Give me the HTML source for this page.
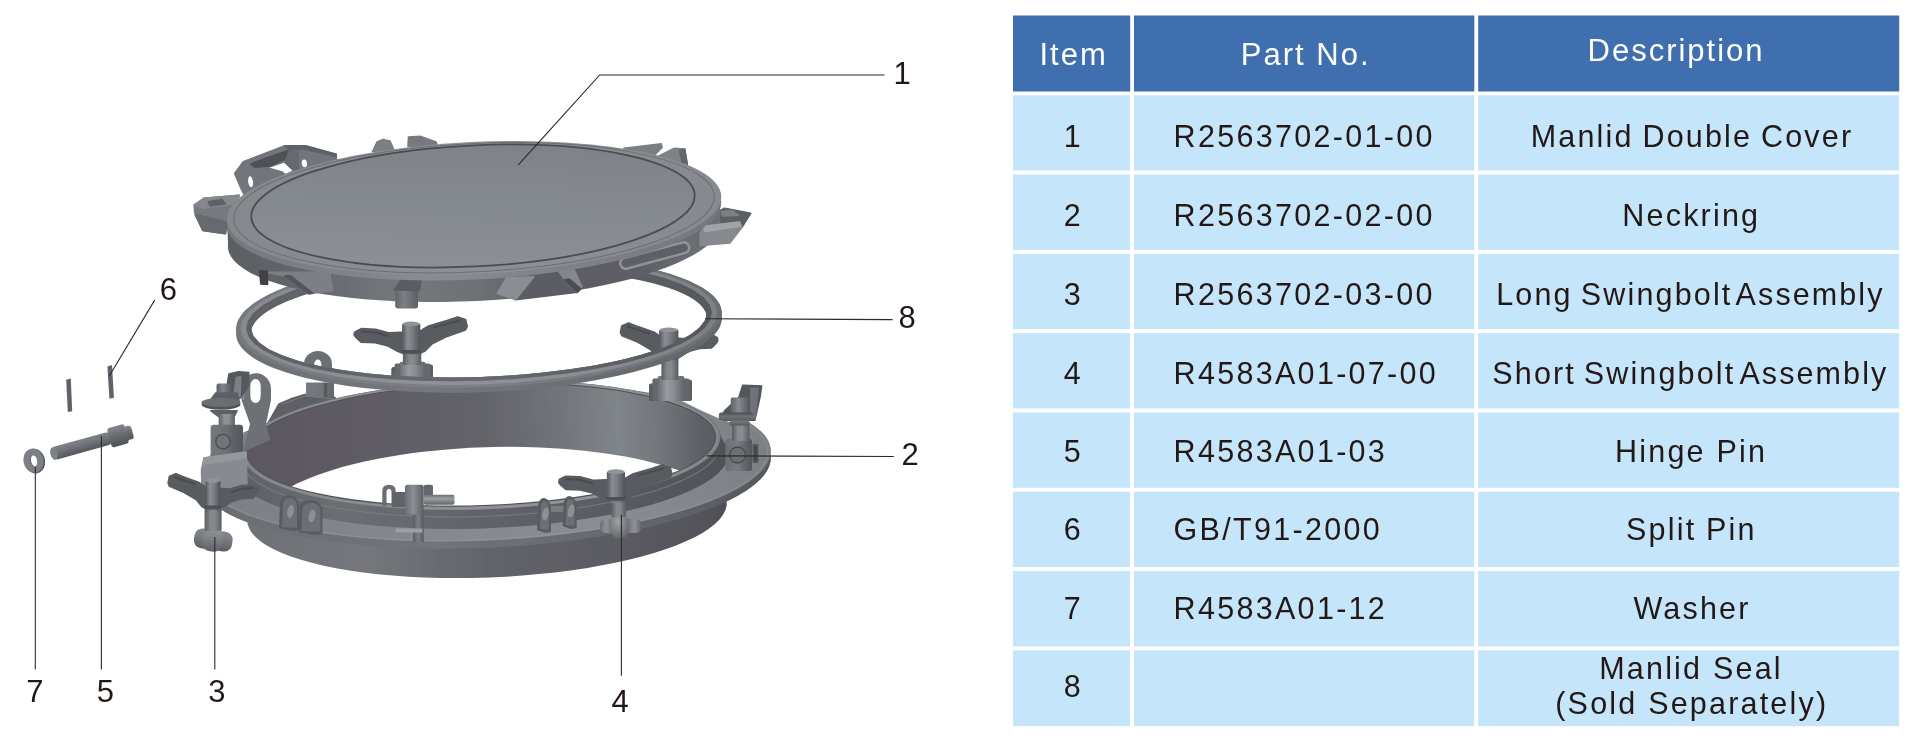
<!DOCTYPE html>
<html><head><meta charset="utf-8"><title>Manlid parts</title>
<style>
html,body{margin:0;padding:0;background:#fff;}
body{width:1920px;height:748px;overflow:hidden;font-family:'Liberation Sans', Arial, sans-serif;}
svg{display:block;position:absolute;left:0;top:0;}
svg text{font-family:'Liberation Sans', Arial, sans-serif;}
</style></head><body>
<svg width="1920" height="748" viewBox="0 0 1920 748">
<defs>
<filter id="softblur" x="0" y="0" width="960" height="748" filterUnits="userSpaceOnUse"><feGaussianBlur stdDeviation="0.7"/></filter>
<linearGradient id="gsk" gradientUnits="userSpaceOnUse" x1="240" y1="0" x2="735" y2="0"><stop offset="0" stop-color="#6d7075"/><stop offset="0.25" stop-color="#74777c"/><stop offset="0.5" stop-color="#62646a"/><stop offset="0.8" stop-color="#5a5961"/><stop offset="1" stop-color="#4f4f56"/></linearGradient>
<linearGradient id="gfe" gradientUnits="userSpaceOnUse" x1="200" y1="0" x2="771" y2="0"><stop offset="0" stop-color="#6a6d72"/><stop offset="0.4" stop-color="#70747a"/><stop offset="0.7" stop-color="#666a6f"/><stop offset="1" stop-color="#55585e"/></linearGradient>
<linearGradient id="gft" gradientUnits="userSpaceOnUse" x1="200" y1="0" x2="771" y2="0"><stop offset="0" stop-color="#7b7f84"/><stop offset="0.35" stop-color="#84888d"/><stop offset="0.7" stop-color="#8a8e93"/><stop offset="1" stop-color="#7c8085"/></linearGradient>
<linearGradient id="gwall" gradientUnits="userSpaceOnUse" x1="246" y1="0" x2="721" y2="0"><stop offset="0" stop-color="#5e6166"/><stop offset="0.2" stop-color="#6b6e73"/><stop offset="0.5" stop-color="#606368"/><stop offset="0.8" stop-color="#595b61"/><stop offset="1" stop-color="#505258"/></linearGradient>
<linearGradient id="grim" gradientUnits="userSpaceOnUse" x1="246" y1="0" x2="721" y2="0"><stop offset="0" stop-color="#7c8085"/><stop offset="0.4" stop-color="#85898e"/><stop offset="0.75" stop-color="#8e9297"/><stop offset="1" stop-color="#7a7e83"/></linearGradient>
<linearGradient id="ginn" gradientUnits="userSpaceOnUse" x1="250" y1="0" x2="716" y2="0"><stop offset="0" stop-color="#5c5862"/><stop offset="0.25" stop-color="#5e5b65"/><stop offset="0.5" stop-color="#63636a"/><stop offset="0.66" stop-color="#707479"/><stop offset="0.79" stop-color="#80858a"/><stop offset="0.88" stop-color="#72767b"/><stop offset="0.96" stop-color="#5f6267"/><stop offset="1" stop-color="#5a5c62"/></linearGradient>
<clipPath id="cpin"><ellipse cx="481.0" cy="444.6" rx="233.9" ry="60.4" transform="rotate(-2.0 481.0 444.6)" fill="#000" /></clipPath>
<linearGradient id="b3cap" gradientUnits="userSpaceOnUse" x1="216.5" y1="0" x2="232.6" y2="0"><stop offset="0" stop-color="#5f6267"/><stop offset="0.4" stop-color="#80848a"/><stop offset="1" stop-color="#54575c"/></linearGradient>
<linearGradient id="b3stem" gradientUnits="userSpaceOnUse" x1="218.7" y1="0" x2="234.9" y2="0"><stop offset="0" stop-color="#5c5f64"/><stop offset="0.35" stop-color="#8d9196"/><stop offset="0.6" stop-color="#8d9196"/><stop offset="1" stop-color="#5c5f64"/></linearGradient>
<linearGradient id="b3blk" gradientUnits="userSpaceOnUse" x1="210.6" y1="0" x2="243" y2="0"><stop offset="0" stop-color="#74787d"/><stop offset="0.5" stop-color="#6b6f74"/><stop offset="0.72" stop-color="#5c5f64"/><stop offset="1" stop-color="#55585d"/></linearGradient>
<linearGradient id="b4blk" gradientUnits="userSpaceOnUse" x1="725.5" y1="0" x2="752" y2="0"><stop offset="0" stop-color="#6b6e73"/><stop offset="0.45" stop-color="#777b80"/><stop offset="0.8" stop-color="#5f6267"/><stop offset="1" stop-color="#54575c"/></linearGradient>
<linearGradient id="b4stem" gradientUnits="userSpaceOnUse" x1="732" y1="0" x2="749.5" y2="0"><stop offset="0" stop-color="#595c61"/><stop offset="0.35" stop-color="#878b90"/><stop offset="0.6" stop-color="#878b90"/><stop offset="1" stop-color="#595c61"/></linearGradient>
<linearGradient id="b4cap" gradientUnits="userSpaceOnUse" x1="730.8" y1="0" x2="749.5" y2="0"><stop offset="0" stop-color="#5f6267"/><stop offset="0.4" stop-color="#888c91"/><stop offset="1" stop-color="#54575c"/></linearGradient>
<linearGradient id="b4w1" gradientUnits="userSpaceOnUse" x1="0" y1="412.6" x2="0" y2="420.3"><stop offset="0" stop-color="#4b4e53"/><stop offset="0.5" stop-color="#6e7277"/><stop offset="1" stop-color="#5a5d62"/></linearGradient>
<linearGradient id="b4w2" gradientUnits="userSpaceOnUse" x1="0" y1="420.6" x2="0" y2="425.5"><stop offset="0" stop-color="#7b7f84"/><stop offset="1" stop-color="#54575c"/></linearGradient>
<linearGradient id="b1base" gradientUnits="userSpaceOnUse" x1="399.64" y1="0" x2="425.494" y2="0"><stop offset="0" stop-color="#6a6d72"/><stop offset="0.35" stop-color="#989ca1"/><stop offset="0.6" stop-color="#8a8e93"/><stop offset="1" stop-color="#62656a"/></linearGradient>
<linearGradient id="b1s" gradientUnits="userSpaceOnUse" x1="402.9" y1="0" x2="421.3" y2="0"><stop offset="0" stop-color="#595c61"/><stop offset="0.35" stop-color="#85898e"/><stop offset="0.6" stop-color="#85898e"/><stop offset="1" stop-color="#595c61"/></linearGradient>
<linearGradient id="b1h" gradientUnits="userSpaceOnUse" x1="402.09999999999997" y1="0" x2="420.3" y2="0"><stop offset="0" stop-color="#54575c"/><stop offset="0.3" stop-color="#8a8e93"/><stop offset="0.55" stop-color="#7b7f84"/><stop offset="1" stop-color="#505358"/></linearGradient>
<linearGradient id="rlstem" gradientUnits="userSpaceOnUse" x1="306" y1="0" x2="334" y2="0"><stop offset="0" stop-color="#777b80"/><stop offset="0.6" stop-color="#70747a"/><stop offset="0.7" stop-color="#4d5055"/><stop offset="0.78" stop-color="#686c71"/><stop offset="1" stop-color="#64676c"/></linearGradient>
<linearGradient id="b2base" gradientUnits="userSpaceOnUse" x1="657.6" y1="0" x2="684.26" y2="0"><stop offset="0" stop-color="#6a6d72"/><stop offset="0.35" stop-color="#989ca1"/><stop offset="0.6" stop-color="#8a8e93"/><stop offset="1" stop-color="#62656a"/></linearGradient>
<linearGradient id="b2stem" gradientUnits="userSpaceOnUse" x1="661.4" y1="0" x2="678.4" y2="0"><stop offset="0" stop-color="#595c61"/><stop offset="0.35" stop-color="#85898e"/><stop offset="0.6" stop-color="#85898e"/><stop offset="1" stop-color="#595c61"/></linearGradient>
<linearGradient id="b2s" gradientUnits="userSpaceOnUse" x1="658.8720000000001" y1="0" x2="678.3760000000001" y2="0"><stop offset="0" stop-color="#595c61"/><stop offset="0.35" stop-color="#85898e"/><stop offset="0.6" stop-color="#85898e"/><stop offset="1" stop-color="#595c61"/></linearGradient>
<linearGradient id="b2h" gradientUnits="userSpaceOnUse" x1="659.0840000000001" y1="0" x2="678.3760000000001" y2="0"><stop offset="0" stop-color="#54575c"/><stop offset="0.3" stop-color="#8a8e93"/><stop offset="0.55" stop-color="#7b7f84"/><stop offset="1" stop-color="#505358"/></linearGradient>
<linearGradient id="castem" gradientUnits="userSpaceOnUse" x1="413" y1="0" x2="423.7" y2="0"><stop offset="0" stop-color="#5a5d62"/><stop offset="0.5" stop-color="#7b7f84"/><stop offset="1" stop-color="#55585d"/></linearGradient>
<linearGradient id="capin" gradientUnits="userSpaceOnUse" x1="0" y1="494.7" x2="0" y2="504.8"><stop offset="0" stop-color="#6b6e73"/><stop offset="0.4" stop-color="#9a9ea3"/><stop offset="1" stop-color="#5f6267"/></linearGradient>
<linearGradient id="cablk" gradientUnits="userSpaceOnUse" x1="405" y1="0" x2="423.7" y2="0"><stop offset="0" stop-color="#6b6e73"/><stop offset="0.45" stop-color="#8b8f94"/><stop offset="1" stop-color="#5c5f64"/></linearGradient>
<linearGradient id="f3t" gradientUnits="userSpaceOnUse" x1="0" y1="530" x2="0" y2="550"><stop offset="0" stop-color="#84888d"/><stop offset="0.35" stop-color="#7a7e83"/><stop offset="1" stop-color="#5a5d62"/></linearGradient>
<linearGradient id="f3t2" gradientUnits="userSpaceOnUse" x1="0" y1="528.5" x2="0" y2="551.5"><stop offset="0" stop-color="#8f9398"/><stop offset="0.4" stop-color="#808489"/><stop offset="1" stop-color="#5f6267"/></linearGradient>
<linearGradient id="f3stem" gradientUnits="userSpaceOnUse" x1="204.6" y1="0" x2="221.6" y2="0"><stop offset="0" stop-color="#595c61"/><stop offset="0.35" stop-color="#85898e"/><stop offset="0.6" stop-color="#85898e"/><stop offset="1" stop-color="#595c61"/></linearGradient>
<linearGradient id="f3s" gradientUnits="userSpaceOnUse" x1="205.384" y1="0" x2="220.47199999999998" y2="0"><stop offset="0" stop-color="#595c61"/><stop offset="0.35" stop-color="#85898e"/><stop offset="0.6" stop-color="#85898e"/><stop offset="1" stop-color="#595c61"/></linearGradient>
<linearGradient id="f3h" gradientUnits="userSpaceOnUse" x1="205.548" y1="0" x2="220.47199999999998" y2="0"><stop offset="0" stop-color="#54575c"/><stop offset="0.3" stop-color="#8a8e93"/><stop offset="0.55" stop-color="#7b7f84"/><stop offset="1" stop-color="#505358"/></linearGradient>
<radialGradient id="thd" cx="0.4" cy="0.3" r="0.75"><stop offset="0" stop-color="#9ea2a7"/><stop offset="1" stop-color="#62656a"/></radialGradient>
<linearGradient id="f4t" gradientUnits="userSpaceOnUse" x1="600" y1="0" x2="641" y2="0"><stop offset="0" stop-color="#6b6e73"/><stop offset="0.15" stop-color="#8f9398"/><stop offset="0.3" stop-color="#6b6e73"/><stop offset="0.7" stop-color="#74787d"/><stop offset="0.85" stop-color="#8f9398"/><stop offset="1" stop-color="#64676c"/></linearGradient>
<linearGradient id="f4stem" gradientUnits="userSpaceOnUse" x1="611.2" y1="0" x2="625.9" y2="0"><stop offset="0" stop-color="#595c61"/><stop offset="0.35" stop-color="#85898e"/><stop offset="0.6" stop-color="#85898e"/><stop offset="1" stop-color="#595c61"/></linearGradient>
<linearGradient id="f4s" gradientUnits="userSpaceOnUse" x1="607.6" y1="0" x2="626.0" y2="0"><stop offset="0" stop-color="#595c61"/><stop offset="0.35" stop-color="#85898e"/><stop offset="0.6" stop-color="#85898e"/><stop offset="1" stop-color="#595c61"/></linearGradient>
<linearGradient id="f4h" gradientUnits="userSpaceOnUse" x1="606.8" y1="0" x2="625.0" y2="0"><stop offset="0" stop-color="#54575c"/><stop offset="0.3" stop-color="#8a8e93"/><stop offset="0.55" stop-color="#7b7f84"/><stop offset="1" stop-color="#505358"/></linearGradient>
<linearGradient id="hp" gradientUnits="userSpaceOnUse" x1="0" y1="436.5" x2="0" y2="449.5"><stop offset="0" stop-color="#7d8186"/><stop offset="0.3" stop-color="#75797e"/><stop offset="1" stop-color="#54575c"/></linearGradient>
<linearGradient id="hp2" gradientUnits="userSpaceOnUse" x1="0" y1="433" x2="0" y2="453"><stop offset="0" stop-color="#84888d"/><stop offset="0.4" stop-color="#6b6e73"/><stop offset="1" stop-color="#4f5257"/></linearGradient>
<linearGradient id="hp3" gradientUnits="userSpaceOnUse" x1="0" y1="436" x2="0" y2="450"><stop offset="0" stop-color="#84888d"/><stop offset="0.4" stop-color="#6b6e73"/><stop offset="1" stop-color="#54575c"/></linearGradient>
<linearGradient id="gseal0" gradientUnits="userSpaceOnUse" x1="236" y1="0" x2="722" y2="0"><stop offset="0" stop-color="#6c7075"/><stop offset="0.4" stop-color="#74787d"/><stop offset="1" stop-color="#62666b"/></linearGradient>
<linearGradient id="gseal1" gradientUnits="userSpaceOnUse" x1="236" y1="0" x2="722" y2="0"><stop offset="0" stop-color="#868a8f"/><stop offset="0.4" stop-color="#8f9398"/><stop offset="0.7" stop-color="#8b8f94"/><stop offset="1" stop-color="#7b7f84"/></linearGradient>
<linearGradient id="gseal2" gradientUnits="userSpaceOnUse" x1="236" y1="0" x2="722" y2="0"><stop offset="0" stop-color="#5d6065"/><stop offset="0.5" stop-color="#666a6f"/><stop offset="1" stop-color="#54575c"/></linearGradient>
<linearGradient id="gseal3" gradientUnits="userSpaceOnUse" x1="236" y1="0" x2="722" y2="0"><stop offset="0" stop-color="#75797e"/><stop offset="0.5" stop-color="#7d8186"/><stop offset="1" stop-color="#6a6e73"/></linearGradient>
<clipPath id="cpseal"><ellipse cx="479.0" cy="320.5" rx="228.0" ry="56.5" transform="rotate(-2.0 479.0 320.5)" fill="#000" /></clipPath>
<mask id="mseal" maskUnits="userSpaceOnUse" x="0" y="0" width="960" height="748"><rect x="0" y="0" width="960" height="748" fill="#fff"/><g clip-path="url(#cpseal)"><ellipse cx="479.0" cy="325.5" rx="228.0" ry="56.5" transform="rotate(-2.0 479.0 325.5)" fill="#000" /></g></mask>
<linearGradient id="gcw" gradientUnits="userSpaceOnUse" x1="226" y1="0" x2="722" y2="0"><stop offset="0" stop-color="#5b5e63"/><stop offset="0.15" stop-color="#63666b"/><stop offset="0.35" stop-color="#74787d"/><stop offset="0.51" stop-color="#6d7075"/><stop offset="0.61" stop-color="#62636a"/><stop offset="0.69" stop-color="#5d5c65"/><stop offset="0.83" stop-color="#5e5d66"/><stop offset="0.935" stop-color="#6a6d72"/><stop offset="1" stop-color="#6e7176"/></linearGradient>
<linearGradient id="cvcyl" gradientUnits="userSpaceOnUse" x1="395" y1="0" x2="418" y2="0"><stop offset="0" stop-color="#64676c"/><stop offset="0.4" stop-color="#7b7f84"/><stop offset="1" stop-color="#5c5f64"/></linearGradient>
<linearGradient id="gcch" gradientUnits="userSpaceOnUse" x1="226" y1="0" x2="722" y2="0"><stop offset="0" stop-color="#74787d"/><stop offset="0.4" stop-color="#888c91"/><stop offset="0.7" stop-color="#7e8287"/><stop offset="1" stop-color="#74787d"/></linearGradient>
<linearGradient id="gcr" gradientUnits="userSpaceOnUse" x1="226" y1="0" x2="722" y2="0"><stop offset="0" stop-color="#85898e"/><stop offset="0.5" stop-color="#8d9196"/><stop offset="1" stop-color="#868a8f"/></linearGradient>
<linearGradient id="gct" gradientUnits="userSpaceOnUse" x1="480" y1="146" x2="470" y2="267"><stop offset="0" stop-color="#7f8389"/><stop offset="0.5" stop-color="#858a8e"/><stop offset="1" stop-color="#8c9094"/></linearGradient>
</defs>
<g id="diagram" filter="url(#softblur)">
<path d="M725.7,496.6 L726.7,501.1 L726.6,505.7 L725.4,510.2 L723.0,514.8 L719.5,519.4 L714.9,524.0 L709.2,528.5 L702.5,532.9 L694.7,537.2 L685.9,541.3 L676.2,545.4 L665.5,549.3 L654.0,553.0 L641.8,556.5 L628.8,559.7 L615.1,562.8 L600.8,565.6 L585.9,568.2 L570.6,570.4 L554.9,572.4 L538.8,574.1 L522.5,575.6 L506.1,576.7 L489.5,577.5 L473.0,577.9 L456.5,578.1 L440.1,577.9 L424.0,577.5 L408.2,576.7 L392.7,575.6 L377.7,574.2 L363.3,572.5 L349.4,570.5 L336.1,568.2 L323.6,565.7 L311.9,562.8 L301.0,559.8 L291.0,556.5 L281.9,553.0 L273.8,549.3 L266.7,545.5 L260.7,541.4 L255.8,537.2 L251.9,532.9 L249.2,528.5 L247.6,524.1 L247.2,519.5 L247.9,514.9 L247.0,470.0 L727.0,450.0Z" fill="url(#gsk)" />
<path d="M760.1,437.5 L765.2,443.0 L768.6,448.7 L770.4,454.5 L770.6,460.5 L769.1,466.4 L765.9,472.4 L761.1,478.4 L754.7,484.3 L746.8,490.2 L737.3,495.9 L726.4,501.5 L714.0,506.9 L700.3,512.1 L685.4,517.0 L669.3,521.6 L652.2,526.0 L634.1,530.0 L615.1,533.7 L595.3,537.0 L575.0,539.9 L554.1,542.5 L532.8,544.6 L511.2,546.2 L489.5,547.4 L467.8,548.2 L446.2,548.5 L424.8,548.3 L403.7,547.7 L383.2,546.7 L363.2,545.2 L344.0,543.2 L325.6,540.8 L308.1,538.0 L291.7,534.9 L276.4,531.3 L262.3,527.4 L249.5,523.1 L238.1,518.6 L228.1,513.7 L219.7,508.6 L212.8,503.3 L207.4,497.8 L203.8,492.1 L201.7,486.3 L201.3,480.4 L202.6,474.4 L205.5,468.4 L210.1,462.5 L210.1,455.5 L205.5,461.4 L202.6,467.4 L201.3,473.4 L201.7,479.3 L203.8,485.1 L207.4,490.8 L212.8,496.3 L219.7,501.6 L228.1,506.7 L238.1,511.6 L249.5,516.1 L262.3,520.4 L276.4,524.3 L291.7,527.9 L308.1,531.0 L325.6,533.8 L344.0,536.2 L363.2,538.2 L383.2,539.7 L403.7,540.7 L424.8,541.3 L446.2,541.5 L467.8,541.2 L489.5,540.4 L511.2,539.2 L532.8,537.6 L554.1,535.5 L575.0,532.9 L595.3,530.0 L615.1,526.7 L634.1,523.0 L652.2,519.0 L669.3,514.6 L685.4,510.0 L700.3,505.1 L714.0,499.9 L726.4,494.5 L737.3,488.9 L746.8,483.2 L754.7,477.3 L761.1,471.4 L765.9,465.4 L769.1,459.4 L770.6,453.5 L770.4,447.5 L768.6,441.7 L765.2,436.0 L760.1,430.5Z" fill="url(#gfe)" />
<ellipse cx="486.0" cy="470.0" rx="285.0" ry="77.5" transform="rotate(-2.6 486.0 470.0)" fill="url(#gfe)" />
<ellipse cx="486.0" cy="463.0" rx="285.0" ry="77.5" transform="rotate(-2.6 486.0 463.0)" fill="url(#gft)" />
<ellipse cx="486.0" cy="463.3" rx="282.0" ry="76.3" transform="rotate(-2.6 486.0 463.3)" fill="none" stroke="#9a9ea2" stroke-width="0.8" opacity="0.6"/>
<path d="M680.0,385.0 L730.0,385.0 L748.0,420.0 L745.0,427.0 L732.0,423.0 L718.0,418.0 L700.0,410.0 L680.0,400.0Z" fill="#ffffff" />
<path d="M722.5,439.7 L725.8,444.5 L727.7,449.3 L728.4,454.2 L727.6,459.2 L725.5,464.2 L722.1,469.1 L717.3,474.0 L711.2,478.9 L703.9,483.6 L695.3,488.3 L685.6,492.8 L674.7,497.1 L662.8,501.2 L649.8,505.2 L636.0,508.8 L621.2,512.3 L605.8,515.4 L589.6,518.3 L572.8,520.8 L555.5,523.0 L537.9,524.9 L519.9,526.5 L501.6,527.6 L483.3,528.5 L465.0,528.9 L446.7,529.0 L428.7,528.7 L410.9,528.1 L393.5,527.1 L376.6,525.7 L360.3,524.0 L344.6,521.9 L329.7,519.5 L315.6,516.8 L302.4,513.8 L290.2,510.5 L279.1,507.0 L269.1,503.2 L260.2,499.1 L252.5,494.9 L246.1,490.5 L241.0,485.9 L237.2,481.2 L234.8,476.4 L233.7,471.5 L234.0,466.6 L235.6,461.6 L238.6,456.6 L241.7,451.1 L720.1,434.4Z" fill="url(#gwall)" />
<ellipse cx="481.0" cy="445.0" rx="239.5" ry="64.5" transform="rotate(-2.0 481.0 445.0)" fill="url(#gwall)" />
<path d="M717.1,455.0 L714.4,458.7 L710.9,462.5 L706.7,466.2 L701.7,469.9 L695.9,473.5 L689.4,477.0 L682.2,480.4 L674.3,483.8 L665.8,487.0 L656.6,490.2 L646.9,493.2 L636.6,496.0 L625.7,498.7 L614.4,501.3 L602.6,503.6 L590.4,505.9 L577.9,507.9 L565.0,509.7 L551.8,511.4 L538.4,512.8 L524.8,514.0 L511.0,515.1 L497.2,515.9 L483.3,516.5 L469.3,516.8 L455.4,517.0 L441.7,516.9 L428.0,516.7 L414.5,516.1 L401.3,515.4 L388.3,514.5 L375.6,513.4 L363.3,512.0 L351.4,510.4 L339.9,508.7 L328.9,506.8 L318.4,504.6 L308.4,502.3 L299.1,499.8 L290.4,497.2 L282.3,494.4 L274.8,491.5 L268.1,488.4 L262.1,485.2 L256.9,481.9 L252.3,478.5 L248.6,475.0 L245.7,471.4" fill="none" stroke="#7e8287" stroke-width="1.2" opacity="0.7"/>
<path d="M279.0,404.0 L292.0,398.5 L305.0,394.5 L335.0,397.5 L336.0,404.0 L316.0,410.0 L292.0,420.0 L281.0,426.0 L268.0,434.0 L263.0,432.0Z" fill="#5f5e66" stroke="#5f5e66" stroke-width="1.6" stroke-linejoin="round" />
<path d="M281,404.5 L305,396 L334,399" fill="none" stroke="#7c8085" stroke-width="1.2" opacity="0.8"/>
<ellipse cx="481.0" cy="445.0" rx="239.5" ry="64.5" transform="rotate(-2.0 481.0 445.0)" fill="url(#grim)" />
<ellipse cx="481.0" cy="445.0" rx="237.0" ry="62.9" transform="rotate(-2.0 481.0 445.0)" fill="none" stroke="#9a9ea3" stroke-width="0.8" opacity="0.7"/>
<ellipse cx="481.0" cy="444.6" rx="234.5" ry="61.0" transform="rotate(-2.0 481.0 444.6)" fill="url(#ginn)" stroke="#4e5055" stroke-width="1"/>
<g clip-path="url(#cpin)"><ellipse cx="495.0" cy="520.0" rx="237.0" ry="73.0" transform="rotate(-1.2 495.0 520.0)" fill="#ffffff" /></g>
<path d="M241.5,400 L241.5,388 A14.8,16 0 0 1 271,388 L271,400 L266,424 L270,440 L243,452 L250,424 Z M250.3,396 L250.3,386 A5.2,7 0 0 1 260.7,386 L260.7,396 A5.2,7 0 0 1 250.3,396 Z" fill="#6d7075" fill-rule="evenodd"/>
<path d="M243.5,400 L243.5,388 A12.8,14 0 0 1 247,379" fill="none" stroke="#898d92" stroke-width="1.5"/>
<path d="M225.3,396.8 L229.0,374.0 L238.5,371.8 L248.8,372.5 L248.1,386.5 L240.0,398.2Z" fill="#56595e" stroke="#56595e" stroke-width="1.6" stroke-linejoin="round" />
<path d="M234.1,395.3 L236.3,377.6 L240.7,376.9 L240.0,396.8Z" fill="#7c8085" stroke="#7c8085" stroke-width="1.6" stroke-linejoin="round" />
<rect x="216.5" y="383.5" width="16.1" height="12.5" rx="2" fill="url(#b3cap)" />
<path d="M209.1,401.9 L215.7,393.1 L237.1,393.1 L239.3,401.9Z" fill="#5c5f64" stroke="#5c5f64" stroke-width="1.6" stroke-linejoin="round" />
<ellipse cx="221" cy="404.5" rx="19.5" ry="5.2" fill="#4f5257"/>
<ellipse cx="221" cy="402.5" rx="19.5" ry="4.6" fill="#6b6e73"/>
<path d="M210.6,410.7 L237.1,410.7 L234.1,416.6 L218.7,416.6Z" fill="#5d6065" stroke="#5d6065" stroke-width="1.6" stroke-linejoin="round" />
<rect x="218.7" y="414.0" width="16.2" height="13.0" rx="1.5" fill="url(#b3stem)" />
<rect x="210.6" y="424.7" width="32.4" height="33.3" rx="3" fill="url(#b3blk)" />
<circle cx="223" cy="441.6" r="7.2" fill="#70747a" stroke="#4b4e53" stroke-width="1.3"/>
<path d="M204.0,458.0 L246.0,452.0 L247.0,488.0 L202.0,489.0 L201.5,470.0Z" fill="#878b90" stroke="#878b90" stroke-width="1.6" stroke-linejoin="round" />
<path d="M204.0,458.0 L246.0,452.0 L246.0,458.0 L204.0,464.0Z" fill="#94989d" stroke="#94989d" stroke-width="1.6" stroke-linejoin="round" />
<rect x="725.5" y="439.0" width="26.5" height="32.0" rx="2.5" fill="url(#b4blk)" />
<circle cx="737.5" cy="455" r="8" fill="#6c7075" stroke="#474a4f" stroke-width="1.3"/>
<rect x="752.5" y="444.0" width="6.0" height="19.0" rx="1" fill="#55585d" />
<rect x="754.5" y="446.0" width="2.0" height="15.0" rx="0" fill="#3f4146" />
<rect x="732.0" y="424.0" width="17.5" height="17.0" rx="1.5" fill="url(#b4stem)" />
<path d="M724.1,411.4 L738.8,397.4 L742.8,385.3 L761.6,386.0 L760.2,396.0 L754.9,420.1 L724.1,420.1Z" fill="#54575c" stroke="#54575c" stroke-width="1.6" stroke-linejoin="round" />
<path d="M750.9,388.0 L758.2,388.3 L754.9,418.1 L750.9,418.1Z" fill="#6f7378" stroke="#6f7378" stroke-width="1.6" stroke-linejoin="round" />
<rect x="730.8" y="397.5" width="18.7" height="15.5" rx="1.5" fill="url(#b4cap)" />
<rect x="718.8" y="412.6" width="34.7" height="7.7" rx="2.5" fill="url(#b4w1)" />
<rect x="729.5" y="420.6" width="20.0" height="4.9" rx="1.5" fill="url(#b4w2)" />
<rect x="391.3" y="367.1" width="9.2" height="12.5" rx="2" fill="#5a5d62" />
<rect x="424.7" y="364.4" width="8.3" height="15.2" rx="2" fill="#5a5d62" />
<rect x="394.6" y="363.5" width="35.9" height="16.1" rx="2" fill="#64676c" />
<rect x="399.6" y="361.7" width="25.9" height="17.9" rx="2" fill="url(#b1base)" />
<rect x="402.9" y="351.1" width="18.4" height="13.8" rx="1.5" fill="url(#b1s)" />
<path d="M401.0,332.8 L389.2,333.3 L375.3,329.6 L361.4,329.0 L355.0,332.2 L354.5,334.9 L356.1,337.1 L361.4,341.9 L375.3,342.4 L388.2,345.6 L397.8,351.0 L403.1,353.1 L411.7,353.1 L411.7,333.1Z" fill="#595c61" stroke="#595c61" stroke-width="2.4" stroke-linejoin="round" />
<path d="M419.7,331.7 L428.8,326.4 L447.0,321.0 L457.7,317.3 L465.2,319.9 L466.8,326.4 L465.2,329.6 L447.0,336.0 L432.0,343.5 L424.5,351.0 L419.7,353.1 L411.7,353.1 L411.7,333.1Z" fill="#595c61" stroke="#595c61" stroke-width="2.4" stroke-linejoin="round" />
<path d="M361.7,331.6 L375.7,332.6 L387.7,336.1" fill="none" stroke="#44474c" stroke-width="2" stroke-linecap="round" opacity="0.8"/>
<path d="M433.7,327.6 L447.7,323.6 L458.7,320.6" fill="none" stroke="#44474c" stroke-width="2" stroke-linecap="round" opacity="0.8"/>
<rect x="402.1" y="323.1" width="18.2" height="29.0" rx="2.5" fill="url(#b1h)" />
<ellipse cx="411.2" cy="323.9" rx="8.5" ry="2.4" fill="#90949a"/>
<path d="M400.6,350.1 L421.8,350.1 L420.3,353.1 L402.1,353.1 Z" fill="#4d5055"/>
<path d="M304,373 L304,364 A14,13 0 0 1 332,364 L332,373 Z M314.2,369 L314.2,364.5 A3.6,5 0 0 1 321.4,364.5 L321.4,369 Z" fill="#6c6f74" fill-rule="evenodd"/>
<rect x="306.0" y="382.5" width="28.0" height="14.5" rx="0" fill="url(#rlstem)" />
<rect x="649.0" y="383.5" width="9.5" height="17.5" rx="2" fill="#5a5d62" />
<rect x="683.4" y="379.8" width="8.6" height="21.2" rx="2" fill="#5a5d62" />
<rect x="652.4" y="378.5" width="37.0" height="22.5" rx="2" fill="#64676c" />
<rect x="657.6" y="376.0" width="26.7" height="25.0" rx="2" fill="url(#b2base)" />
<rect x="661.4" y="360.0" width="17.0" height="20.0" rx="1.5" fill="url(#b2stem)" />
<rect x="658.9" y="356.5" width="19.5" height="5.9" rx="1.5" fill="url(#b2s)" />
<path d="M677.4,338.6 L687.6,339.1 L699.5,335.5 L711.5,334.9 L717.0,338.0 L717.4,340.7 L716.0,342.8 L711.5,347.5 L699.5,348.0 L688.4,351.1 L680.2,356.4 L675.6,358.5 L668.2,358.5 L668.2,338.9Z" fill="#595c61" stroke="#595c61" stroke-width="2.4" stroke-linejoin="round" />
<path d="M661.3,337.5 L653.5,332.3 L637.8,327.0 L628.6,323.4 L622.2,326.0 L620.8,332.3 L622.2,335.5 L637.8,341.7 L650.7,349.1 L657.2,356.4 L661.3,358.5 L668.2,358.5 L668.2,338.9Z" fill="#595c61" stroke="#595c61" stroke-width="2.4" stroke-linejoin="round" />
<path d="M711.2,337.4 L699.2,338.4 L688.8,341.8" fill="none" stroke="#44474c" stroke-width="2" stroke-linecap="round" opacity="0.8"/>
<path d="M649.3,333.5 L637.2,329.6 L627.8,326.6" fill="none" stroke="#44474c" stroke-width="2" stroke-linecap="round" opacity="0.8"/>
<rect x="659.1" y="329.1" width="19.3" height="28.4" rx="2.5" fill="url(#b2h)" />
<ellipse cx="668.7" cy="329.9" rx="9.0" ry="2.4" fill="#90949a"/>
<path d="M657.6,355.5 L679.9,355.5 L678.4,358.5 L659.1,358.5 Z" fill="#4d5055"/>
<path d="M279,528 L280,503 Q281,495 289.0,495 Q298,496 299,505 L299,530 L293,531 Z" fill="#585b60"/>
<path d="M282,527 L283,504 Q283,498 290.0,498 Q296,498 297,506 L297,528 Z" fill="#6b6f74"/>
<ellipse cx="290.5" cy="511.5" rx="3.2" ry="6.5" fill="#8d9196" transform="rotate(12 290.5 511.5)"/>
<path d="M298.5,532 L299.5,508 Q300.5,500 310.5,500 Q321.5,501 322.5,510 L322.5,534 L316.5,535 Z" fill="#585b60"/>
<path d="M301.5,531 L302.5,509 Q302.5,503 311.5,503 Q319.5,503 320.5,511 L320.5,532 Z" fill="#6b6f74"/>
<ellipse cx="312.0" cy="516.0" rx="3.2" ry="6.5" fill="#8d9196" transform="rotate(12 312.0 516.0)"/>
<rect x="549.0" y="506.0" width="15.0" height="6.0" rx="0" fill="#777b80" />
<path d="M537,530 L538,506 Q539,498 544.0,498 Q550,499 551,508 L551,532 L545,533 Z" fill="#585b60"/>
<path d="M540,529 L541,507 Q541,501 545.0,501 Q548,501 549,509 L549,530 Z" fill="#6b6f74"/>
<ellipse cx="545.5" cy="514.0" rx="3.2" ry="6.5" fill="#8d9196" transform="rotate(12 545.5 514.0)"/>
<path d="M562.6,526 L563.6,504 Q564.6,496 569.6,496 Q575.6,497 576.6,506 L576.6,528 L570.6,529 Z" fill="#585b60"/>
<path d="M565.6,525 L566.6,505 Q566.6,499 570.6,499 Q573.6,499 574.6,507 L574.6,526 Z" fill="#6b6f74"/>
<ellipse cx="571.1" cy="511.0" rx="3.2" ry="6.5" fill="#8d9196" transform="rotate(12 571.1 511.0)"/>
<path d="M382.3,506 L382.3,491 Q382.3,484.7 389,484.7 Q395.7,484.7 395.7,491 L395.7,506 L391.5,506 L391.5,492 Q391.5,489 389,489 Q386.5,489 386.5,492 L386.5,506 Z" fill="#6a6d72"/>
<rect x="392.0" y="492.0" width="16.0" height="15.0" rx="0" fill="#5f6267" />
<rect x="413.0" y="512.0" width="10.7" height="30.0" rx="0" fill="url(#castem)" />
<rect x="395.7" y="528.5" width="26.7" height="4.0" rx="0" fill="#9ca0a5" />
<rect x="423.7" y="484.7" width="9.3" height="11.3" rx="2" fill="#64676c" />
<rect x="423.7" y="494.7" width="30.8" height="10.1" rx="2" fill="url(#capin)" />
<rect x="405.0" y="484.7" width="18.7" height="29.8" rx="2.5" fill="url(#cablk)" />
<g transform="rotate(8 213 540)">
<rect x="194.0" y="530.0" width="38.5" height="20.0" rx="8" fill="url(#f3t)" />
<rect x="203.0" y="528.5" width="19.0" height="23.0" rx="7" fill="url(#f3t2)" />
</g>
<rect x="204.6" y="506.0" width="17.0" height="25.0" rx="1.5" fill="url(#f3stem)" />
<rect x="205.4" y="506.5" width="15.1" height="4.9" rx="1.5" fill="url(#f3s)" />
<path d="M221.2,489.0 L230.6,489.5 L241.7,485.9 L252.8,485.4 L258.0,488.4 L258.4,491.0 L257.1,493.1 L252.8,497.7 L241.7,498.2 L231.4,501.3 L223.7,506.5 L219.5,508.5 L212.6,508.5 L212.6,489.3Z" fill="#595c61" stroke="#595c61" stroke-width="2.4" stroke-linejoin="round" />
<path d="M206.2,488.0 L198.9,482.9 L184.4,477.7 L175.8,474.1 L169.8,476.6 L168.5,482.9 L169.8,485.9 L184.4,492.1 L196.4,499.3 L202.4,506.5 L206.2,508.5 L212.6,508.5 L212.6,489.3Z" fill="#595c61" stroke="#595c61" stroke-width="2.4" stroke-linejoin="round" />
<path d="M252.6,487.9 L241.4,488.8 L231.8,492.2" fill="none" stroke="#44474c" stroke-width="2" stroke-linecap="round" opacity="0.8"/>
<path d="M195.0,484.0 L183.8,480.2 L175.0,477.3" fill="none" stroke="#44474c" stroke-width="2" stroke-linecap="round" opacity="0.8"/>
<rect x="205.5" y="479.7" width="14.9" height="27.8" rx="2.5" fill="url(#f3h)" />
<ellipse cx="213.0" cy="480.5" rx="6.9" ry="2.4" fill="#90949a"/>
<path d="M204.0,505.5 L222.0,505.5 L220.5,508.5 L205.5,508.5 Z" fill="#4d5055"/>
<rect x="600.1" y="519.0" width="41.2" height="14.0" rx="5" fill="url(#f4t)" />
<rect x="611.0" y="514.8" width="18.0" height="23.4" rx="7" fill="url(#thd)" />
<rect x="611.2" y="498.0" width="14.7" height="19.0" rx="1.5" fill="url(#f4stem)" />
<rect x="607.6" y="498.0" width="18.4" height="4.9" rx="1.5" fill="url(#f4s)" />
<path d="M605.7,480.3 L593.9,480.8 L580.0,477.2 L566.1,476.6 L559.7,479.7 L559.2,482.3 L560.8,484.5 L566.1,489.1 L580.0,489.6 L592.9,492.7 L602.5,498.0 L607.8,500.0 L616.4,500.0 L616.4,480.6Z" fill="#595c61" stroke="#595c61" stroke-width="2.4" stroke-linejoin="round" />
<path d="M624.4,479.2 L633.5,474.1 L651.7,468.9 L662.4,465.3 L669.9,467.8 L671.5,474.1 L669.9,477.2 L651.7,483.4 L636.7,490.7 L629.2,498.0 L624.4,500.0 L616.4,500.0 L616.4,480.6Z" fill="#595c61" stroke="#595c61" stroke-width="2.4" stroke-linejoin="round" />
<path d="M566.4,479.1 L580.4,480.1 L592.4,483.5" fill="none" stroke="#44474c" stroke-width="2" stroke-linecap="round" opacity="0.8"/>
<path d="M638.4,475.3 L652.4,471.4 L663.4,468.5" fill="none" stroke="#44474c" stroke-width="2" stroke-linecap="round" opacity="0.8"/>
<rect x="606.8" y="470.9" width="18.2" height="28.1" rx="2.5" fill="url(#f4h)" />
<ellipse cx="615.9" cy="471.7" rx="8.5" ry="2.4" fill="#90949a"/>
<path d="M605.3,497.0 L626.5,497.0 L625.0,500.0 L606.8,500.0 Z" fill="#4d5055"/>
<g transform="rotate(-12 33.7 460.6)">
<path d="M34.7,449 a10.2,12.4 0 1 0 0.01,0 Z M34.3,455.2 a3.3,5.8 0 1 1 -0.01,0 Z" fill="#55585d" fill-rule="evenodd"/>
<path d="M33.5,448.4 a10,12.2 0 1 0 0.01,0 Z M33.7,455 a3.4,5.8 0 1 1 -0.01,0 Z" fill="#7d8186" fill-rule="evenodd"/>
</g>
<g transform="rotate(-15.5 92 443)">
<rect x="50.0" y="436.5" width="62.0" height="13.0" rx="5" fill="url(#hp)" />
<ellipse cx="52.5" cy="443" rx="3.6" ry="6.3" fill="#7e8287"/>
<rect x="110.0" y="433.0" width="18.0" height="20.0" rx="3" fill="url(#hp2)" />
<rect x="126.0" y="436.0" width="8.0" height="14.0" rx="3" fill="url(#hp3)" />
</g>
<path d="M66.2,379.8 L70.8,378.4 L72.2,411.2 L67.8,412 Z" fill="#5f6267"/>
<path d="M107.4,366.4 L112,365 L113.9,397.8 L109.4,398.8 Z" fill="#5f6267"/>
<g mask="url(#mseal)">
<ellipse cx="479.0" cy="326.0" rx="243.0" ry="66.2" transform="rotate(-2.0 479.0 326.0)" fill="url(#gseal0)" />
<ellipse cx="479.0" cy="321.0" rx="243.0" ry="66.2" transform="rotate(-2.0 479.0 321.0)" fill="url(#gseal0)" />
<ellipse cx="479.0" cy="320.5" rx="228.0" ry="56.5" transform="rotate(-2.0 479.0 320.5)" fill="url(#gseal2)" />
</g>
<path d="M721.9,312.5 L720.1,321.2 L714.2,329.9 L704.3,338.5 L690.5,346.7 L673.1,354.5 L652.4,361.8 L628.7,368.3 L602.4,374.1 L574.1,378.9 L544.1,382.7 L513.0,385.5 L481.3,387.2 L449.6,387.7 L418.4,387.1 L388.2,385.4 L359.6,382.5 L333.0,378.7 L308.9,373.8 L287.7,368.0 L269.8,361.4 L255.5,354.2 L245.0,346.3 L238.5,338.0 L236.1,329.5 L237.9,320.8 L243.8,312.1 L253.7,303.5 L267.5,295.3 L284.9,287.5 L305.6,280.2 L329.3,273.7 L355.6,267.9 L383.9,263.1 L413.9,259.3 L445.0,256.5 L476.7,254.8 L508.4,254.3 L539.6,254.9 L569.8,256.6 L598.4,259.5 L625.0,263.3 L649.1,268.2 L670.3,274.0 L688.2,280.6 L702.5,287.8 L713.0,295.7 L719.5,304.0 L721.9,312.5Z M706.9,312.5 L704.7,305.2 L698.6,298.2 L688.8,291.5 L675.3,285.4 L658.6,279.8 L638.7,274.9 L616.1,270.9 L591.2,267.6 L564.4,265.3 L536.1,263.9 L506.8,263.5 L477.0,264.0 L447.3,265.6 L418.1,268.0 L390.0,271.4 L363.4,275.6 L338.7,280.5 L316.5,286.2 L297.0,292.4 L280.7,299.2 L267.7,306.2 L258.4,313.6 L252.8,321.0 L251.1,328.5 L253.3,335.8 L259.4,342.8 L269.2,349.5 L282.7,355.6 L299.4,361.2 L319.3,366.1 L341.9,370.1 L366.8,373.4 L393.6,375.7 L421.9,377.1 L451.2,377.5 L481.0,377.0 L510.7,375.4 L539.9,373.0 L568.0,369.6 L594.6,365.4 L619.3,360.5 L641.5,354.8 L661.0,348.6 L677.3,341.8 L690.3,334.8 L699.6,327.4 L705.2,320.0 L706.9,312.5Z" fill="url(#gseal3)" fill-rule="evenodd"/>
<path d="M717.4,312.4 L715.6,320.8 L709.8,329.1 L700.1,337.4 L686.5,345.3 L669.5,352.9 L649.1,359.8 L625.9,366.1 L600.1,371.7 L572.3,376.3 L542.8,380.0 L512.3,382.7 L481.2,384.4 L450.1,384.9 L419.5,384.3 L389.8,382.7 L361.7,380.0 L335.7,376.3 L312.0,371.6 L291.3,366.1 L273.7,359.7 L259.6,352.8 L249.3,345.2 L243.0,337.3 L240.6,329.0 L242.4,320.6 L248.2,312.3 L257.9,304.0 L271.5,296.1 L288.5,288.5 L308.9,281.6 L332.1,275.3 L357.9,269.7 L385.7,265.1 L415.2,261.4 L445.7,258.7 L476.8,257.0 L507.9,256.5 L538.5,257.1 L568.2,258.7 L596.3,261.4 L622.3,265.1 L646.0,269.8 L666.7,275.3 L684.3,281.7 L698.4,288.6 L708.7,296.2 L715.0,304.1 L717.4,312.4Z M711.9,312.5 L709.6,304.7 L703.4,297.2 L693.3,290.1 L679.6,283.5 L662.5,277.5 L642.2,272.3 L619.1,267.9 L593.6,264.4 L566.2,261.9 L537.2,260.4 L507.3,259.9 L476.9,260.4 L446.5,262.0 L416.7,264.6 L387.9,268.1 L360.8,272.6 L335.6,277.8 L312.9,283.8 L293.0,290.4 L276.3,297.6 L263.1,305.1 L253.5,312.9 L247.9,320.8 L246.1,328.7 L248.4,336.5 L254.6,344.0 L264.7,351.1 L278.4,357.7 L295.5,363.7 L315.8,368.9 L338.9,373.3 L364.4,376.8 L391.8,379.3 L420.8,380.8 L450.7,381.3 L481.1,380.8 L511.5,379.2 L541.3,376.6 L570.1,373.1 L597.2,368.6 L622.4,363.4 L645.1,357.4 L665.0,350.8 L681.7,343.6 L694.9,336.1 L704.5,328.3 L710.1,320.4 L711.9,312.5Z" fill="url(#gseal1)" fill-rule="evenodd"/>
<path d="M711.9,312.5 L710.1,320.4 L704.5,328.3 L694.9,336.1 L681.7,343.6 L665.0,350.8 L645.1,357.4 L622.4,363.4 L597.2,368.6 L570.1,373.1 L541.3,376.6 L511.5,379.2 L481.1,380.8 L450.7,381.3 L420.8,380.8 L391.8,379.3 L364.4,376.8 L338.9,373.3 L315.8,368.9 L295.5,363.7 L278.4,357.7 L264.7,351.1 L254.6,344.0 L248.4,336.5 L246.1,328.7 L247.9,320.8 L253.5,312.9 L263.1,305.1 L276.3,297.6 L293.0,290.4 L312.9,283.8 L335.6,277.8 L360.8,272.6 L387.9,268.1 L416.7,264.6 L446.5,262.0 L476.9,260.4 L507.3,259.9 L537.2,260.4 L566.2,261.9 L593.6,264.4 L619.1,267.9 L642.2,272.3 L662.5,277.5 L679.6,283.5 L693.3,290.1 L703.4,297.2 L709.6,304.7 L711.9,312.5Z M706.9,312.5 L704.7,305.2 L698.6,298.2 L688.8,291.5 L675.3,285.4 L658.6,279.8 L638.7,274.9 L616.1,270.9 L591.2,267.6 L564.4,265.3 L536.1,263.9 L506.8,263.5 L477.0,264.0 L447.3,265.6 L418.1,268.0 L390.0,271.4 L363.4,275.6 L338.7,280.5 L316.5,286.2 L297.0,292.4 L280.7,299.2 L267.7,306.2 L258.4,313.6 L252.8,321.0 L251.1,328.5 L253.3,335.8 L259.4,342.8 L269.2,349.5 L282.7,355.6 L299.4,361.2 L319.3,366.1 L341.9,370.1 L366.8,373.4 L393.6,375.7 L421.9,377.1 L451.2,377.5 L481.0,377.0 L510.7,375.4 L539.9,373.0 L568.0,369.6 L594.6,365.4 L619.3,360.5 L641.5,354.8 L661.0,348.6 L677.3,341.8 L690.3,334.8 L699.6,327.4 L705.2,320.0 L706.9,312.5Z" fill="url(#gseal2)" fill-rule="evenodd"/>
<path d="M234.6,173.5 L243.2,161.7 L284.9,145.7 L305.2,145.7 L336.2,154.3 L336.8,163.9 L332.0,167.1 L299.9,175.6 L267.8,186.3 L244.3,194.9 L241.0,188.5Z M282.2,172.0 L285.4,174.8 L294.3,170.3 L285.4,161.5 L266.9,167.7Z" fill="#72767b" fill-rule="evenodd" stroke="#72767b" stroke-width="1.5" stroke-linejoin="round"/>
<path d="M250.7,163.9 L289.2,150.0 L293.4,155.3 L269.9,166.0 L254.9,167.1Z" fill="#4f5157" stroke="#4f5157" stroke-width="1.6" stroke-linejoin="round" />
<path d="M284.9,145.7 L305.2,145.7 L336.2,154.3 L336.2,156.4 L304.1,148.9 L289.2,150.0Z" fill="#5f6267" stroke="#5f6267" stroke-width="1.6" stroke-linejoin="round" />
<path d="M284.9,162.3 L289.2,151.0 L297.7,152.1 L298.8,170.3 L293.4,170.3Z" fill="#666a6f" stroke="#666a6f" stroke-width="1.6" stroke-linejoin="round" />
<ellipse cx="250.6" cy="181.8" rx="2.4" ry="5.6" fill="#fff" transform="rotate(-8 250.6 181.8)"/>
<ellipse cx="304.4" cy="163.3" rx="2.6" ry="3.9" fill="#fff" transform="rotate(-8 304.4 163.3)"/>
<path d="M194.3,204.9 L203.9,198.4 L239.2,195.2 L232.8,215.6 L225.3,233.7 L202.8,230.5 L194.7,212.4Z" fill="#74787d" stroke="#74787d" stroke-width="1.6" stroke-linejoin="round" />
<path d="M194.3,204.9 L203.9,198.4 L239.2,195.2 L236.0,203.8 L202.8,208.1Z" fill="#85898e" stroke="#85898e" stroke-width="1.6" stroke-linejoin="round" />
<path d="M208.2,201.7 L222.1,199.5 L225.3,203.8 L210.3,205.9Z" fill="#5f6267" stroke="#5f6267" stroke-width="1.6" stroke-linejoin="round" />
<path d="M195.1,214.5 L226.4,222.0 L225.3,233.7 L202.8,230.5Z" fill="#66696e" stroke="#66696e" stroke-width="1.6" stroke-linejoin="round" />
<path d="M372.5,151.5 L377.0,142.0 L383.0,139.5 L390.0,141.0 L394.0,150.0Z" fill="#7b7f84" stroke="#7b7f84" stroke-width="1.6" stroke-linejoin="round" />
<path d="M408.0,146.5 L408.5,137.0 L420.0,136.3 L436.0,142.0 L437.5,146.0Z" fill="#767a7f" stroke="#767a7f" stroke-width="1.6" stroke-linejoin="round" />
<path d="M623.9,148.2 L661.3,143.9 L662.1,147.4 L653.4,156.1 L630.8,154.3Z" fill="#7a7e83" stroke="#7a7e83" stroke-width="1.6" stroke-linejoin="round" />
<path d="M658.6,156.1 L674.3,148.2 L684.7,149.1 L687.3,164.7 L679.5,167.4 L662.1,161.3Z" fill="#7e8287" stroke="#7e8287" stroke-width="1.6" stroke-linejoin="round" />
<path d="M679.5,150.8 L684.7,149.1 L687.3,164.7 L683.0,165.6Z" fill="#63666b" stroke="#63666b" stroke-width="1.6" stroke-linejoin="round" />
<path d="M714.2,213.4 L724.7,208.2 L750.7,213.4 L742.0,227.3 L739.4,222.9 L714.2,227.3Z" fill="#5c5f64" stroke="#5c5f64" stroke-width="1.6" stroke-linejoin="round" />
<path d="M721.2,211.7 L731.6,210.3 L738.6,215.1 L722.9,216.0Z" fill="#7b7f84" stroke="#7b7f84" stroke-width="1.6" stroke-linejoin="round" />
<path d="M719.7,219.5 L720.2,224.0 L719.6,228.5 L717.9,233.0 L715.1,237.5 L711.1,242.0 L706.1,246.5 L700.0,251.0 L692.9,255.3 L684.8,259.6 L675.7,263.7 L665.7,267.8 L654.8,271.6 L643.1,275.4 L630.6,278.9 L617.4,282.2 L603.6,285.3 L589.1,288.2 L574.2,290.8 L558.7,293.2 L542.9,295.3 L526.8,297.1 L510.4,298.7 L493.9,300.0 L477.2,300.9 L460.6,301.6 L444.0,301.9 L427.5,302.0 L411.3,301.7 L395.4,301.2 L379.8,300.3 L364.6,299.2 L350.0,297.7 L335.9,296.0 L322.4,293.9 L309.6,291.7 L297.6,289.1 L286.4,286.3 L276.1,283.3 L266.6,280.0 L258.1,276.6 L250.6,272.9 L244.1,269.1 L238.7,265.1 L234.3,261.0 L231.1,256.8 L228.9,252.5 L227.9,248.0 L228.0,243.6 L227.0,216.6 L720.7,192.5Z" fill="url(#gcw)" />
<path d="M267.1,272.4 L329.6,272.4 L332.7,290.6 L308.8,293.8 L284.8,276.0Z" fill="#7c8085" stroke="#7c8085" stroke-width="1.6" stroke-linejoin="round" />
<path d="M284.8,276.0 L290.0,275.5 L312.9,293.2 L308.8,293.8Z" fill="#54575c" stroke="#54575c" stroke-width="1.6" stroke-linejoin="round" />
<path d="M259.8,270.8 L267.1,271.4 L267.6,284.4 L260.8,283.9Z" fill="#404247" stroke="#404247" stroke-width="1.6" stroke-linejoin="round" />
<rect x="395.2" y="288.0" width="22.8" height="20.5" rx="3" fill="url(#cvcyl)" />
<path d="M394.2,289.6 L402.5,278.6 L421.2,279.2 L419.2,290.6Z" fill="#5a5d62" stroke="#5a5d62" stroke-width="1.6" stroke-linejoin="round" />
<path d="M533.9,276.8 L559.1,271.7 L564.8,279.7 L577.4,292.3 L515.5,299.7Z" fill="#5c5b64" stroke="#5c5b64" stroke-width="1.6" stroke-linejoin="round" />
<path d="M506.4,278.0 L533.9,276.8 L515.5,299.7 L497.2,293.4Z" fill="#8a8e93" stroke="#8a8e93" stroke-width="1.6" stroke-linejoin="round" />
<path d="M559.1,271.7 L574.0,269.4 L582.0,286.6 L577.4,292.3 L564.8,279.7Z" fill="#84888d" stroke="#84888d" stroke-width="1.6" stroke-linejoin="round" />
<path d="M564.8,279.7 L569.4,279.1 L580.8,288.9 L577.4,292.3Z" fill="#4b4d53" stroke="#4b4d53" stroke-width="1.6" stroke-linejoin="round" />
<path d="M703.8,226.4 L739.4,222.1 L742.0,227.3 L729.9,242.9 L700.3,245.5 L700.3,234.2Z" fill="#868a8f" stroke="#868a8f" stroke-width="1.6" stroke-linejoin="round" />
<path d="M703.8,226.4 L739.4,222.1 L741.2,225.9 L704.7,231.6Z" fill="#a0a4a9" stroke="#a0a4a9" stroke-width="1.6" stroke-linejoin="round" />
<g transform="rotate(-15 655 256.5)">
<rect x="619.5" y="251.5" width="71" height="11.5" rx="5.7" fill="#5d6065"/>
<rect x="619.5" y="250" width="71" height="11" rx="5.5" fill="none" stroke="#8f9398" stroke-width="2.6"/>
</g>
<ellipse cx="474.0" cy="213.5" rx="247.5" ry="66.0" transform="rotate(-2.8 474.0 213.5)" fill="url(#gcch)" />
<ellipse cx="474.0" cy="208.0" rx="247.5" ry="66.0" transform="rotate(-2.8 474.0 208.0)" fill="url(#gcr)" />
<ellipse cx="474.0" cy="207.7" rx="240.5" ry="64.1" transform="rotate(-2.8 474.0 207.7)" fill="none" stroke="#6a6e73" stroke-width="1"/>
<ellipse cx="473.0" cy="206.0" rx="222.0" ry="60.5" transform="rotate(-2.9 473.0 206.0)" fill="url(#gct)" stroke="#4a4d52" stroke-width="1.8"/>
</g>
<g fill="none" stroke="#2b2b2b" stroke-width="1.1">
<path d="M518.3,164.9 L599.7,75 L884.5,75"/>
<path d="M705.4,318.8 L892.6,319.6"/>
<path d="M706.7,455.9 L893.9,456.5"/>
<path d="M154.7,300.1 L109.1,376.2"/>
<path d="M35.3,467 L35.3,669.5"/>
<path d="M101.4,436 L101.4,669.5"/>
<path d="M214.8,537 L214.8,669.5"/>
<path d="M621.4,514.8 L621.4,675.8"/>
</g>
<text x="893.6" y="84.2" font-size="31" fill="#231815">1</text>
<text x="898.6" y="328.4" font-size="31" fill="#231815">8</text>
<text x="901.6" y="465.3" font-size="31" fill="#231815">2</text>
<text x="159.7" y="300.3" font-size="31" fill="#231815">6</text>
<text x="26.2" y="702.4" font-size="31" fill="#231815">7</text>
<text x="96.8" y="702.4" font-size="31" fill="#231815">5</text>
<text x="208.2" y="702.4" font-size="31" fill="#231815">3</text>
<text x="611.4" y="711.5" font-size="31" fill="#231815">4</text>
<g id="table">
<rect x="1013" y="15.5" width="117.2" height="76" fill="#3f6fae"/>
<rect x="1134" y="15.5" width="340.3" height="76" fill="#3f6fae"/>
<rect x="1478.2" y="15.5" width="421.0" height="76" fill="#3f6fae"/>
<rect x="1013" y="95.2" width="117.2" height="75.4" fill="#c5e6fa"/>
<rect x="1134" y="95.2" width="340.3" height="75.4" fill="#c5e6fa"/>
<rect x="1478.2" y="95.2" width="421.0" height="75.4" fill="#c5e6fa"/>
<rect x="1013" y="174.5" width="117.2" height="75.4" fill="#c5e6fa"/>
<rect x="1134" y="174.5" width="340.3" height="75.4" fill="#c5e6fa"/>
<rect x="1478.2" y="174.5" width="421.0" height="75.4" fill="#c5e6fa"/>
<rect x="1013" y="253.8" width="117.2" height="75.4" fill="#c5e6fa"/>
<rect x="1134" y="253.8" width="340.3" height="75.4" fill="#c5e6fa"/>
<rect x="1478.2" y="253.8" width="421.0" height="75.4" fill="#c5e6fa"/>
<rect x="1013" y="333.1" width="117.2" height="75.4" fill="#c5e6fa"/>
<rect x="1134" y="333.1" width="340.3" height="75.4" fill="#c5e6fa"/>
<rect x="1478.2" y="333.1" width="421.0" height="75.4" fill="#c5e6fa"/>
<rect x="1013" y="412.4" width="117.2" height="75.4" fill="#c5e6fa"/>
<rect x="1134" y="412.4" width="340.3" height="75.4" fill="#c5e6fa"/>
<rect x="1478.2" y="412.4" width="421.0" height="75.4" fill="#c5e6fa"/>
<rect x="1013" y="491.7" width="117.2" height="75.4" fill="#c5e6fa"/>
<rect x="1134" y="491.7" width="340.3" height="75.4" fill="#c5e6fa"/>
<rect x="1478.2" y="491.7" width="421.0" height="75.4" fill="#c5e6fa"/>
<rect x="1013" y="571.0" width="117.2" height="75.4" fill="#c5e6fa"/>
<rect x="1134" y="571.0" width="340.3" height="75.4" fill="#c5e6fa"/>
<rect x="1478.2" y="571.0" width="421.0" height="75.4" fill="#c5e6fa"/>
<rect x="1013" y="650.3" width="117.2" height="75.9" fill="#c5e6fa"/>
<rect x="1134" y="650.3" width="340.3" height="75.9" fill="#c5e6fa"/>
<rect x="1478.2" y="650.3" width="421.0" height="75.9" fill="#c5e6fa"/>
<text x="1039.5" y="65.3" font-size="31" letter-spacing="2" text-anchor="start" fill="#fff" >Item</text>
<text x="1240.8" y="65.3" font-size="31" letter-spacing="2" text-anchor="start" fill="#fff" >Part No.</text>
<text x="1587.5" y="61.4" font-size="31" letter-spacing="2" text-anchor="start" fill="#fff" >Description</text>
<text x="1073.3" y="146.8" font-size="30.5" letter-spacing="2" text-anchor="middle" fill="#231815" >1</text>
<text x="1173.6" y="146.8" font-size="30.5" letter-spacing="2.3" text-anchor="start" fill="#231815" >R2563702-01-00</text>
<text x="1073.3" y="225.8" font-size="30.5" letter-spacing="2" text-anchor="middle" fill="#231815" >2</text>
<text x="1173.6" y="225.8" font-size="30.5" letter-spacing="2.3" text-anchor="start" fill="#231815" >R2563702-02-00</text>
<text x="1073.3" y="304.9" font-size="30.5" letter-spacing="2" text-anchor="middle" fill="#231815" >3</text>
<text x="1173.6" y="304.9" font-size="30.5" letter-spacing="2.3" text-anchor="start" fill="#231815" >R2563702-03-00</text>
<text x="1073.3" y="383.7" font-size="30.5" letter-spacing="2" text-anchor="middle" fill="#231815" >4</text>
<text x="1173.6" y="383.7" font-size="30.5" letter-spacing="2.3" text-anchor="start" fill="#231815" >R4583A01-07-00</text>
<text x="1073.3" y="462.0" font-size="30.5" letter-spacing="2" text-anchor="middle" fill="#231815" >5</text>
<text x="1173.6" y="462.0" font-size="30.5" letter-spacing="2.3" text-anchor="start" fill="#231815" >R4583A01-03</text>
<text x="1073.3" y="540.2" font-size="30.5" letter-spacing="2" text-anchor="middle" fill="#231815" >6</text>
<text x="1173.6" y="540.2" font-size="30.5" letter-spacing="2.3" text-anchor="start" fill="#231815" >GB/T91-2000</text>
<text x="1073.3" y="618.7" font-size="30.5" letter-spacing="2" text-anchor="middle" fill="#231815" >7</text>
<text x="1173.6" y="618.7" font-size="30.5" letter-spacing="2.3" text-anchor="start" fill="#231815" >R4583A01-12</text>
<text x="1073.3" y="696.8" font-size="30.5" letter-spacing="2" text-anchor="middle" fill="#231815" >8</text>
<text x="1692.0" y="146.8" font-size="30.5" letter-spacing="2.2" text-anchor="middle" fill="#231815" word-spacing="-2.0">Manlid Double Cover</text>
<text x="1691.3" y="225.8" font-size="30.5" letter-spacing="2.2" text-anchor="middle" fill="#231815" word-spacing="0">Neckring</text>
<text x="1691.1" y="462.0" font-size="30.5" letter-spacing="2.2" text-anchor="middle" fill="#231815" word-spacing="0">Hinge Pin</text>
<text x="1691.4" y="540.2" font-size="30.5" letter-spacing="2.2" text-anchor="middle" fill="#231815" word-spacing="-1.0">Split Pin</text>
<text x="1692.0" y="618.7" font-size="30.5" letter-spacing="2.2" text-anchor="middle" fill="#231815" word-spacing="0">Washer</text>
<text x="1496.2" y="304.9" font-size="30.5" letter-spacing="2.15" text-anchor="start" fill="#231815" word-spacing="-2.4">Long Swingbolt</text>
<text x="1735.6" y="304.9" font-size="30.5" letter-spacing="2.1" text-anchor="start" fill="#231815" >Assembly</text>
<text x="1492.3" y="383.7" font-size="30.5" letter-spacing="2.15" text-anchor="start" fill="#231815" word-spacing="-2.8">Short Swingbolt</text>
<text x="1739.4" y="383.7" font-size="30.5" letter-spacing="2.1" text-anchor="start" fill="#231815" >Assembly</text>
<text x="1691.0" y="679.0" font-size="30.5" letter-spacing="2.2" text-anchor="middle" fill="#231815" >Manlid Seal</text>
<text x="1691.8" y="713.8" font-size="30.5" letter-spacing="2.2" text-anchor="middle" fill="#231815" >(Sold Separately)</text>
</g>
</svg>
</body></html>
